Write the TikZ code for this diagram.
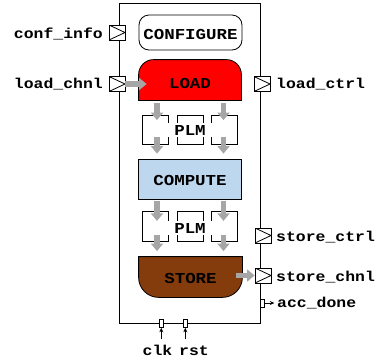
\documentclass[tikz,border=0pt]{standalone}
\usepackage{fontspec}
\setmonofont{Liberation Mono}[FakeStretch=1.15]
\usetikzlibrary{arrows.meta,calc}
\pgfdeclarelayer{bg}
\pgfsetlayers{bg,main}
\definecolor{loadred}{RGB}{255,0,0}
\definecolor{compblue}{RGB}{189,215,238}
\definecolor{storebrown}{RGB}{132,60,12}
\definecolor{arrgray}{RGB}{166,166,166}
\begin{document}
\begin{tikzpicture}[x=1pt,y=-1pt,
  lbl/.style={font=\ttfamily\bfseries\fontsize{14.3}{16}\selectfont, inner sep=0pt},
  inlbl/.style={font=\ttfamily\bfseries\fontsize{15.2}{17}\selectfont, inner sep=0pt},
  port/.style={draw, fill=white, minimum width=16pt, minimum height=15pt, inner sep=0pt, line width=0.8pt,
    path picture={\draw[line width=0.8pt] (path picture bounding box.north west) -- (path picture bounding box.east) -- (path picture bounding box.south west);}},
  tinyport/.style={draw, fill=white, minimum width=4pt, minimum height=8pt, inner sep=0pt, line width=0.6pt},
  bigarrow/.style={draw=arrgray, line width=5.5pt, -{Triangle[width=12pt,length=7.5pt]}},
  thinarrow/.style={-{Stealth[length=4.5pt,width=4pt]}, line width=0.6pt},
  bank/.style={draw, line width=0.8pt, minimum width=26pt, minimum height=29pt, inner sep=0pt},
  plm/.style={inlbl, fill=white, text height=10pt, text depth=0pt, inner ysep=2pt, minimum width=47pt},
  box/.style={line width=0.8pt, minimum width=103pt, minimum height=40pt, inner sep=0pt},
]
\useasboundingbox (0,0) rectangle (378,360);

% accelerator boundary
\node[draw, line width=0.8pt, minimum width=141.5pt, minimum height=320pt, inner sep=0pt] (acc) at (189.75,163.5) {};

% main blocks
\node[box, draw, fill=white, rounded corners=10pt, minimum height=35pt, inlbl, text height=13pt, text depth=0pt] (cfg) at (190.5,32.5) {CONFIGURE};
\node[box, inlbl, text height=16.6pt, text depth=0pt, minimum width=102pt] (load) at (190,80) {LOAD};
\node[box, draw, fill=compblue, inlbl, text height=12pt, text depth=0pt] (compute) at (190,179) {COMPUTE};
\node[box, inlbl, text height=12pt, text depth=0pt] (store) at (190.5,277) {STORE};

\begin{pgfonlayer}{bg}
\filldraw[fill=loadred, line width=0.8pt] (load.south west) -- ($(load.north west)+(0,15)$)
  arc[start angle=180,end angle=270,radius=15] -- ($(load.north east)+(-15,0)$)
  arc[start angle=270,end angle=360,radius=15] -- (load.south east) -- cycle;
\filldraw[fill=storebrown, line width=0.8pt] (store.north west) -- (store.north east) -- ($(store.south east)+(0,-20)$)
  arc[start angle=0,end angle=90,radius=20] -- ($(store.south west)+(20,0)$)
  arc[start angle=90,end angle=180,radius=20] -- cycle;
\end{pgfonlayer}

% PLM 1
\node[bank] (b1l) at (155,129.5) {};
\node[bank] (b1m) at (190,129.5) {};
\node[bank] (b1r) at (224,129.5) {};
\node[plm, anchor=base] (plm1) at (190,135) {PLM};
% PLM 2
\node[bank, minimum height=30pt] (b2l) at (155,226.3) {};
\node[bank, minimum height=30pt] (b2m) at (190,226.3) {};
\node[bank, minimum height=30pt] (b2r) at (224,226.3) {};
\node[plm, anchor=base] (plm2) at (190,233) {PLM};

\coordinate (xl) at (157,0);
\coordinate (xr) at (223.5,0);
\draw[bigarrow] ($(load.south -| xl)+(0,2.5)$) -- ($(b1l.north -| xl)+(0,5.5)$);
\draw[bigarrow] ($(load.south -| xr)+(0,2.5)$) -- ($(b1r.north -| xr)+(0,5.5)$);
\draw[bigarrow] ($(b1l.south -| xl)+(0,-7.5)$) -- ($(compute.north -| xl)+(0,-5)$);
\draw[bigarrow] ($(b1r.south -| xr)+(0,-7.5)$) -- ($(compute.north -| xr)+(0,-5)$);
\draw[bigarrow] ($(compute.south -| xl)+(0,2)$) -- ($(b2l.north -| xl)+(0,10)$);
\draw[bigarrow] ($(compute.south -| xr)+(0,2)$) -- ($(b2r.north -| xr)+(0,10)$);
\draw[bigarrow] ($(b2l.south -| xl)+(0,-6.5)$) -- ($(store.north -| xl)+(0,-5.5)$);
\draw[bigarrow] ($(b2r.south -| xr)+(0,-6.5)$) -- ($(store.north -| xr)+(0,-5.5)$);

% ports
\node[port] (confinfo) at (117,32.5) {};
\node[port] (loadchnl) at (117,84) {};
\node[port] (loadctrl) at (262,84) {};
\node[port] (storectrl) at (263,235.5) {};
\node[port] (storechnl) at (263,275.5) {};
\node[tinyport] (accp) at (262,303) {};
\node[tinyport] (clkp) at (161.3,323.5) {};
\node[tinyport] (rstp) at (185.3,323.5) {};

\draw[bigarrow] (loadchnl.east) -- ($(load.west |- loadchnl.east)+(8,0)$);
\draw[bigarrow] ($(storechnl.west -| store.east)+(-6,0)$) -- (storechnl.west);

\coordinate (accout) at ($(accp.east)+(10,0)$);
\coordinate (clkin) at ($(clkp.south)+(0,11)$);
\coordinate (rstin) at ($(rstp.south)+(0,11)$);
\draw[thinarrow] (accp.east) -- (accout);
\draw[thinarrow] (clkin) -- (clkp.south);
\draw[thinarrow] (rstin) -- (rstp.south);

% labels
\node[lbl, anchor=base east] (lconf) at (103,38.3) {conf\_info};
\node[lbl, anchor=base east] (lloadchnl) at (103,88.3) {load\_chnl};
\node[lbl, anchor=base west] (lloadctrl) at (276,88.3) {load\_ctrl};
\node[lbl, anchor=base west] (lstorectrl) at (276,241.5) {store\_ctrl};
\node[lbl, anchor=base west] (lstorechnl) at (276,281.5) {store\_chnl};
\node[lbl, anchor=base west] (lacc) at (277,307.3) {acc\_done};
\node[lbl, anchor=base] (lclk) at (157.5,355) {clk};
\node[lbl, anchor=base] (lrst) at (194,355) {rst};
\end{tikzpicture}
\end{document}
